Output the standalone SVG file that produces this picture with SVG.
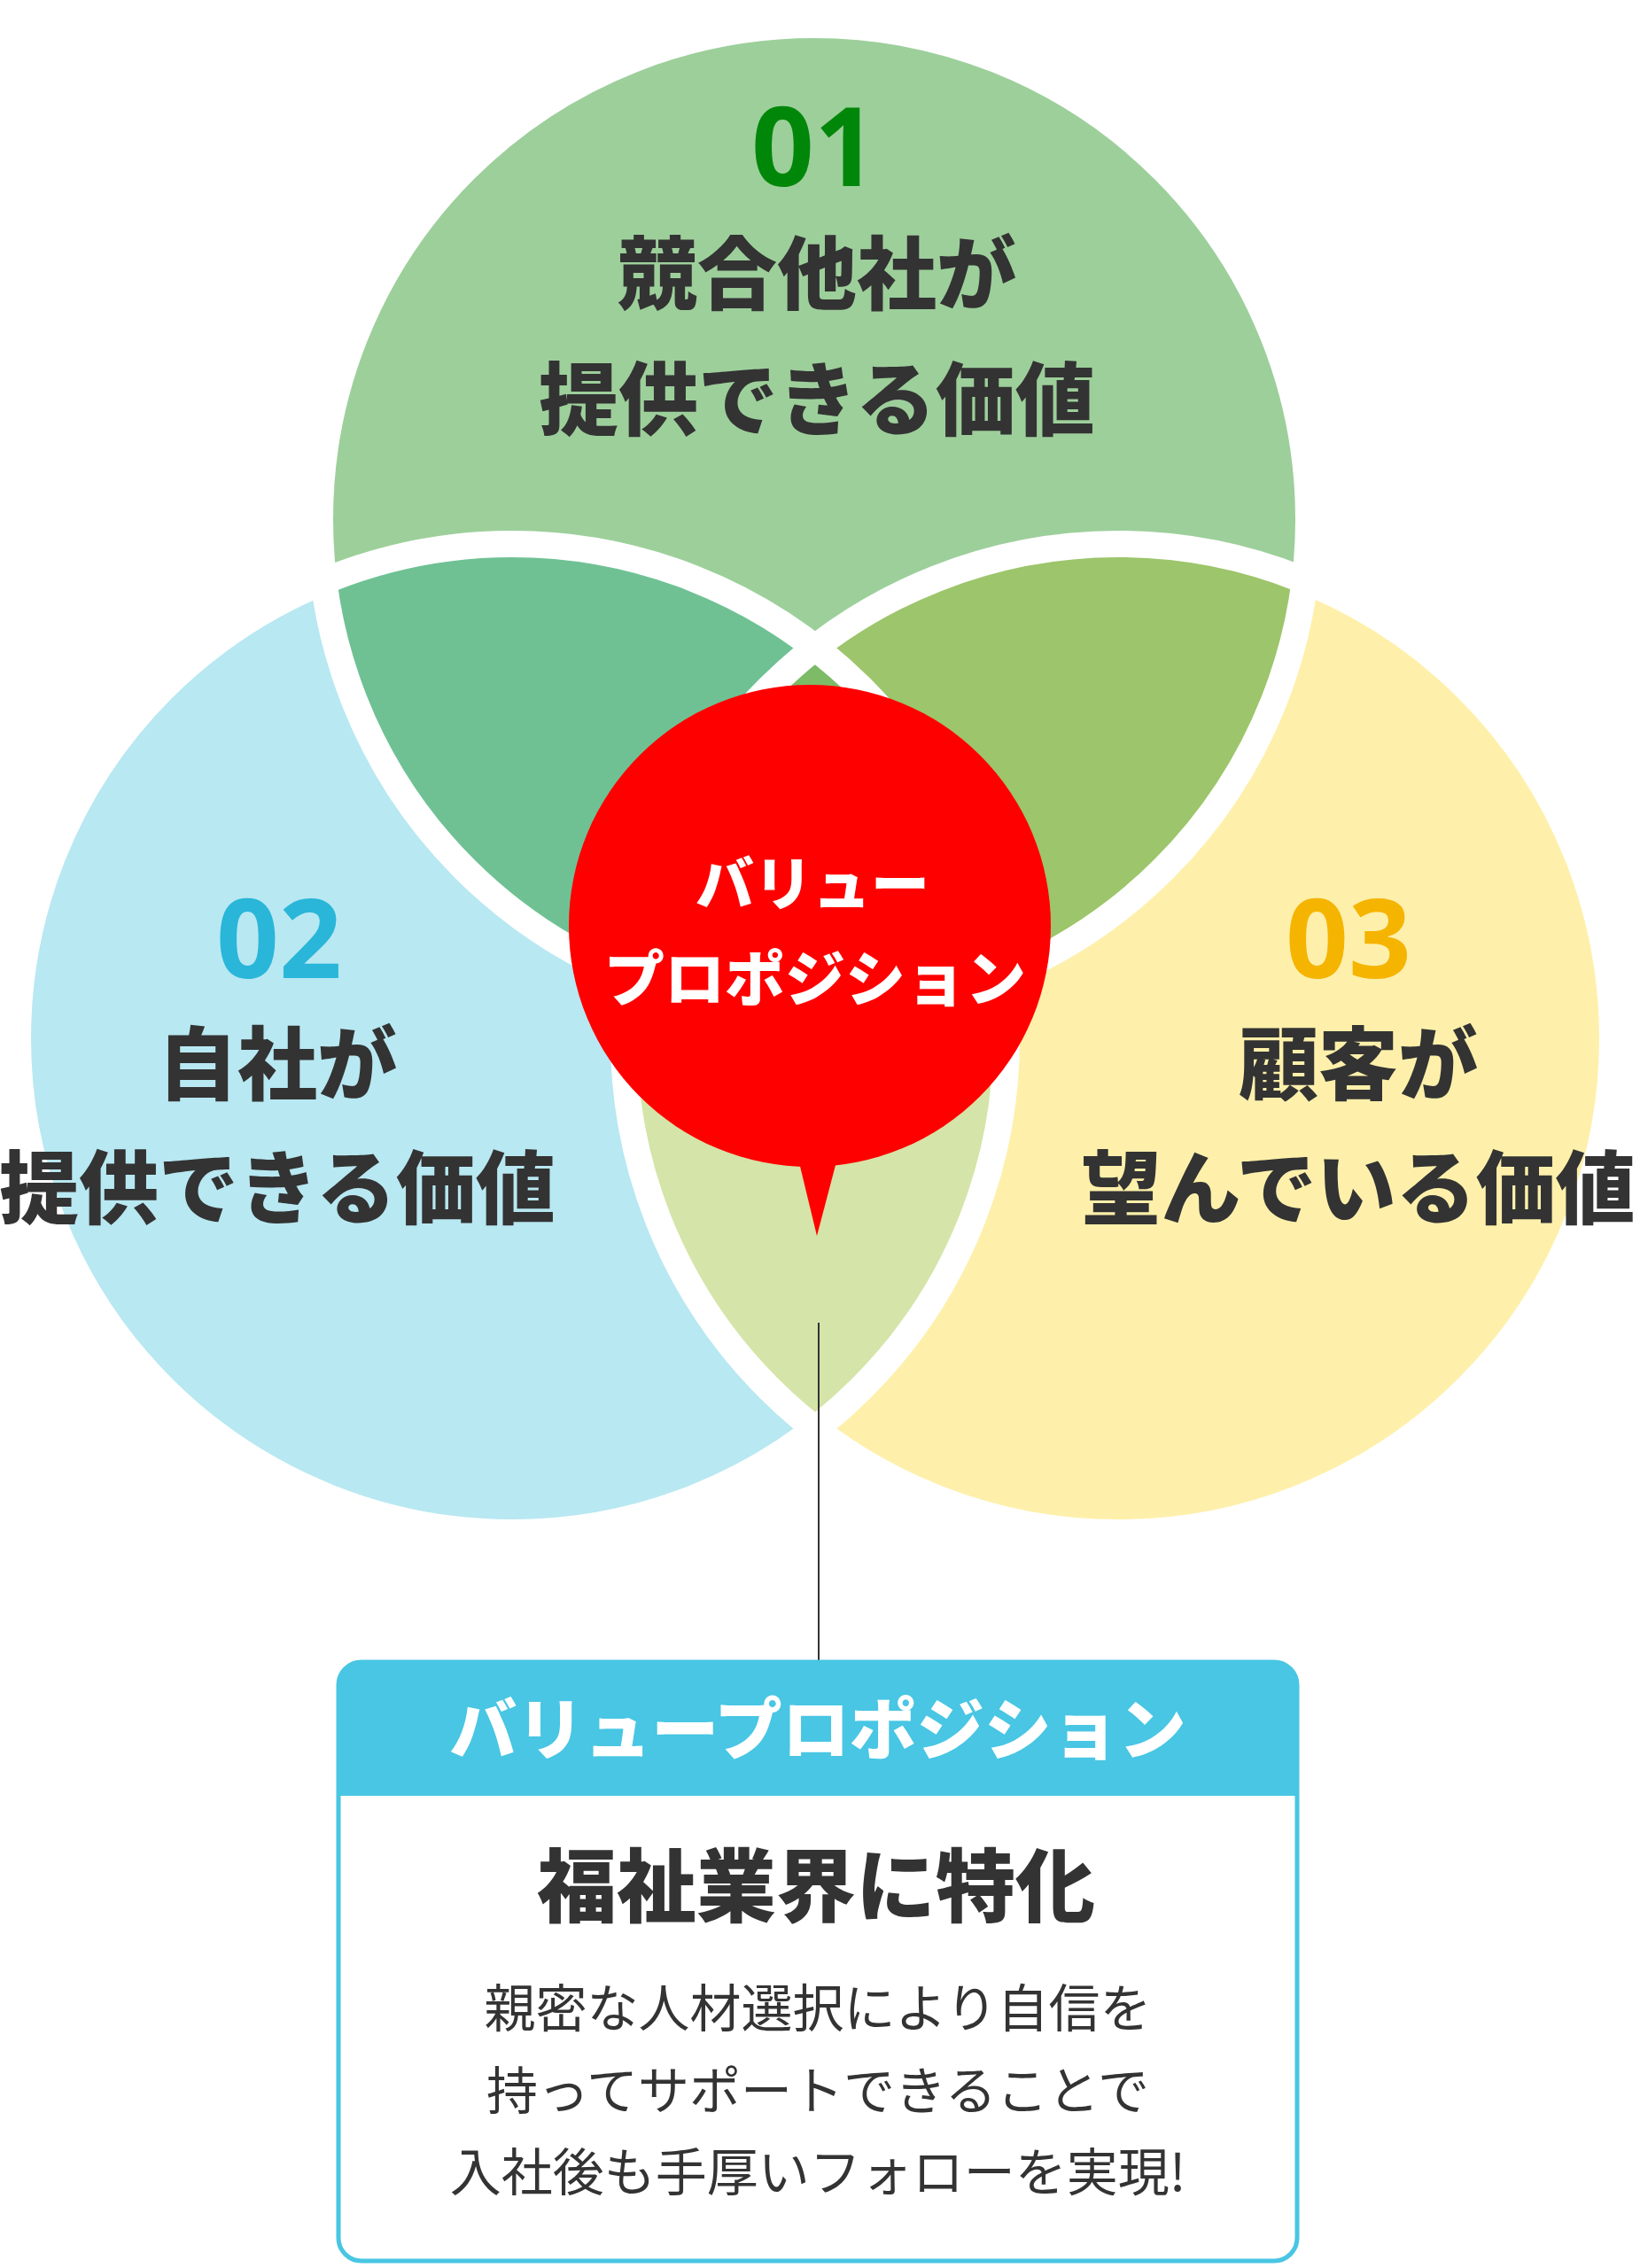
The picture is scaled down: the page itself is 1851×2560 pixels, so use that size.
<svg xmlns="http://www.w3.org/2000/svg" width="1851" height="2560" viewBox="0 0 1851 2560">
<style>
text{font-family:"Noto Sans CJK JP","Noto Sans",sans-serif;text-anchor:middle}
.h{font-weight:900;fill:#333;font-size:90px}
.num{font-weight:700;font-size:124px;font-family:"Open Sans","Noto Sans",sans-serif}
.w{fill:#fff;font-weight:900}
.b{fill:#333;font-size:58px;font-weight:400}
.ring{fill:none;stroke:#fff;stroke-width:30}
</style>
<defs>
<clipPath id="cT"><circle cx="919" cy="586" r="558"/></clipPath>
<clipPath id="cL"><circle cx="578" cy="1172" r="558"/></clipPath>
<clipPath id="cR"><circle cx="1262" cy="1172" r="558"/></clipPath>
</defs>
<g id="circles">
<circle cx="919" cy="586" r="558" fill="#9dcf9b"/>
<circle cx="578" cy="1172" r="558" fill="#b8e8f2"/>
<circle cx="1262" cy="1172" r="558" fill="#fef0ab"/>
<g clip-path="url(#cT)"><circle cx="578" cy="1172" r="558" fill="#6fc194"/><circle cx="1262" cy="1172" r="558" fill="#9dc56b"/></g>
<g clip-path="url(#cL)"><circle cx="1262" cy="1172" r="558" fill="#d5e4a8"/><g clip-path="url(#cR)"><circle cx="919" cy="586" r="558" fill="#7dbb67"/></g></g>
<circle class="ring" cx="919" cy="586" r="558"/>
<circle class="ring" cx="578" cy="1172" r="558"/>
<circle class="ring" cx="1262" cy="1172" r="558"/>
</g>
<g id="n1">
<text class="num" x="919" y="210" fill="#00870a">01</text>
<text class="h" x="922" y="342">競合他社が</text>
<text class="h" x="922" y="484">提供できる価値</text>
</g>
<g id="n2">
<text class="num" x="315" y="1104" fill="#29b6d9">02</text>
<text class="h" x="313" y="1234">自社が</text>
<text class="h" x="313" y="1374">提供できる価値</text>
</g>
<g id="n3">
<text class="num" x="1522" y="1104" fill="#f5b400">03</text>
<text class="h" x="1533" y="1234">顧客が</text>
<text class="h" x="1533" y="1374">望んでいる価値</text>
</g>
<g id="connectors">
<line x1="924" y1="1493" x2="924" y2="1876" stroke="#333" stroke-width="2"/>
</g>
<g id="vp">
<circle cx="914" cy="1045" r="272" fill="#ff0000"/>
<path d="M899 1300 L922 1395 L947 1300 Z" fill="#ff0000"/>
<text class="w" x="917" y="1022" font-size="66">バリュー</text>
<text class="w" x="920" y="1130" font-size="68">プロポジション</text>
</g>
<g id="box">
<rect x="382" y="1876" width="1082" height="676" rx="26" fill="#fff" stroke="#48c6e3" stroke-width="5"/>
<path d="M382 2027 V1902 A26 26 0 0 1 408 1876 H1438 A26 26 0 0 1 1464 1902 V2027 Z" fill="#48c6e3"/>
<text class="w" x="923" y="1980" font-size="76">バリュープロポジション</text>
<text class="h" x="921" y="2162" font-size="86">福祉業界に特化</text>
<text class="b" x="923" y="2288">親密な人材選択により自信を</text>
<text class="b" x="923" y="2381">持ってサポートできることで</text>
<text class="b" x="923" y="2473">入社後も手厚いフォローを実現!</text>
</g>
</svg>
